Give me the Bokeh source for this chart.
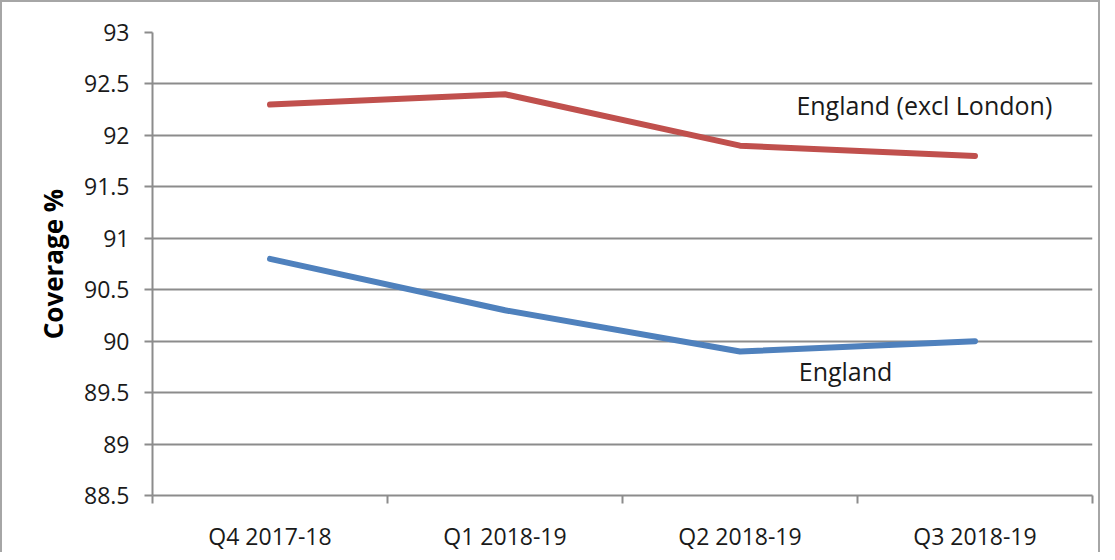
from bokeh.plotting import figure
from bokeh.models import FixedTicker, Range1d, Label
from bokeh.embed import file_html
from bokeh.resources import INLINE

categories = ["Q4 2017-18", "Q1 2018-19", "Q2 2018-19", "Q3 2018-19"]
england_excl_london = [92.3, 92.4, 91.9, 91.8]
england = [90.8, 90.3, 89.9, 90.0]
y_ticks = [88.5, 89, 89.5, 90, 90.5, 91, 91.5, 92, 92.5, 93]
y_tick_labels = ["88.5", "89", "89.5", "90", "90.5", "91", "91.5", "92", "92.5", "93"]

FONT = "Open Sans"
GRID = "#8c8c8c"
TXT = "#1a1a1a"

x = [i + 0.5 for i in range(len(categories))]

p = figure(width=1100, height=552, output_backend="svg", toolbar_location=None,
           x_range=Range1d(0, len(categories)), y_range=Range1d(88.5, 93),
           min_border_left=150, min_border_right=10, min_border_top=30, min_border_bottom=58)
p.styles = {"border-left": "2px solid #a6a6a6", "border-top": "2px solid #a6a6a6",
            "border-right": "2px solid #a6a6a6"}
p.outline_line_color = None
p.background_fill_color = "white"
p.border_fill_color = "white"

p.line(x, england_excl_london, line_color="#C0504D", line_width=6,
       line_cap="round", line_join="round")
p.line(x, england, line_color="#4F81BD", line_width=6,
       line_cap="round", line_join="round")

# y axis
p.yaxis.ticker = FixedTicker(ticks=y_ticks)
p.yaxis.major_label_overrides = {t: l for t, l in zip(y_ticks, y_tick_labels)}
p.yaxis.axis_line_color = GRID
p.yaxis.axis_line_width = 2
p.yaxis.major_tick_line_color = GRID
p.yaxis.major_tick_line_width = 2
p.yaxis.major_tick_out = 8
p.yaxis.major_tick_in = 0
p.yaxis.minor_tick_line_color = None
p.yaxis.major_label_text_font = FONT
p.yaxis.major_label_text_font_size = "23px"
p.yaxis.major_label_text_color = TXT
p.yaxis.major_label_standoff = 15
p.yaxis.axis_label = "Coverage %"
p.yaxis.axis_label_text_font = FONT
p.yaxis.axis_label_text_font_style = "bold"
p.yaxis.axis_label_text_font_size = "26px"
p.yaxis.axis_label_text_color = "#000000"
p.yaxis.axis_label_standoff = 10

# x axis
p.xaxis.ticker = FixedTicker(ticks=x, minor_ticks=list(range(len(categories) + 1)))
p.xaxis.major_label_overrides = {xv: c for xv, c in zip(x, categories)}
p.xaxis.axis_line_color = GRID
p.xaxis.axis_line_width = 2
p.xaxis.major_tick_line_color = None
p.xaxis.minor_tick_line_color = GRID
p.xaxis.minor_tick_line_width = 2
p.xaxis.minor_tick_out = 8
p.xaxis.minor_tick_in = 0
p.xaxis.major_label_text_font = FONT
p.xaxis.major_label_text_font_size = "23px"
p.xaxis.major_label_text_color = TXT
p.xaxis.major_label_standoff = 16

p.xgrid.grid_line_color = None
p.ygrid.grid_line_color = GRID
p.ygrid.grid_line_width = 2

p.add_layout(Label(x=2.74, y=92.3, text="England (excl London)", text_font=FONT,
                   text_font_size="25px", text_color=TXT, text_baseline="middle"))
p.add_layout(Label(x=2.75, y=89.71, text="England", text_font=FONT,
                   text_font_size="25px", text_color=TXT, text_baseline="middle"))

open("out.html", "w").write(file_html(p, INLINE))
